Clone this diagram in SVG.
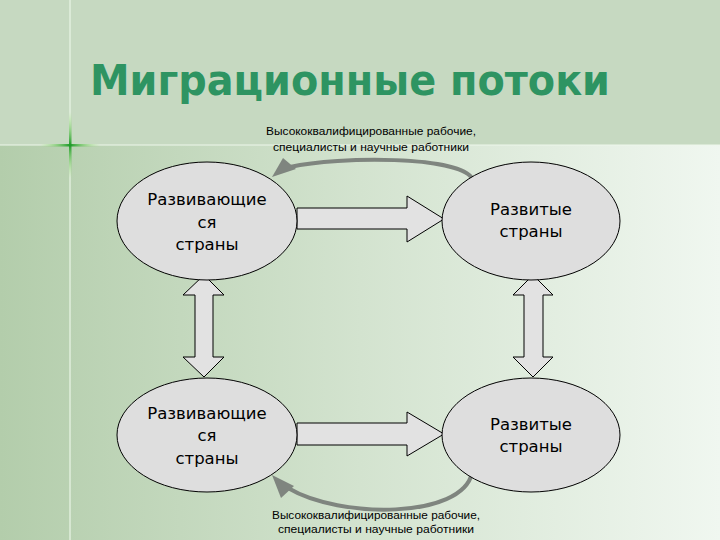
<svg xmlns="http://www.w3.org/2000/svg" width="720" height="540" viewBox="0 0 720 540">
<defs>
<linearGradient id="bg" x1="0" y1="0" x2="1" y2="0">
<stop offset="0" stop-color="#b3cdab"/>
<stop offset="0.5" stop-color="#d3e3cf"/>
<stop offset="1" stop-color="#f0f7f0"/>
</linearGradient>
<linearGradient id="hg" x1="0" y1="0" x2="1" y2="0">
<stop offset="0" stop-color="#9be86a" stop-opacity="0"/>
<stop offset="0.5" stop-color="#1f9a2a"/>
<stop offset="1" stop-color="#9be86a" stop-opacity="0"/>
</linearGradient>
<linearGradient id="vg" x1="0" y1="0" x2="0" y2="1">
<stop offset="0" stop-color="#9be86a" stop-opacity="0"/>
<stop offset="0.5" stop-color="#1f9a2a"/>
<stop offset="1" stop-color="#9be86a" stop-opacity="0"/>
</linearGradient>
</defs>
<style>
.node{fill:#dedede;stroke:#000;stroke-width:1}
.blk{fill:#e2e2e2;stroke:#000;stroke-width:1}
.nt{font-family:"DejaVu Sans",Verdana,sans-serif;font-size:16.5px;fill:#000;text-anchor:middle}
.lbl{font-family:"Liberation Sans",Arial,sans-serif;font-size:11.5px;fill:#000;text-anchor:middle}
.curve{fill:none;stroke:#7f857f;stroke-width:4}
.head{fill:#7f857f;stroke:none}
</style>
<rect x="0" y="0" width="720" height="540" fill="url(#bg)"/>
<rect x="0" y="0" width="720" height="145" fill="#c6d9c1"/>
<line x1="70" y1="0" x2="70" y2="540" stroke="#e9f5e6" stroke-width="1.2"/>
<line x1="0" y1="145" x2="720" y2="145" stroke="#eef8ec" stroke-width="1.2"/>
<rect x="40" y="144" width="60" height="2.5" fill="url(#hg)"/>
<rect x="69" y="112" width="2.5" height="66" fill="url(#vg)"/>
<text x="90" y="95" font-family="DejaVu Sans,Verdana,sans-serif" font-weight="bold" font-size="43" fill="#2e9462" textLength="520" lengthAdjust="spacingAndGlyphs">Миграционные потоки</text>

<g id="connectors">
<path class="blk" d="M297,208 L407,208 L407,196 L444,219 L407,242 L407,229 L297,229 Z"/>
<path class="blk" d="M297,423 L407,423 L407,412 L444,434 L407,456 L407,445 L297,445 Z"/>
<path class="blk" d="M204,275 L224,295 L213,295 L213,357 L224,357 L204,377 L183,357 L195,357 L195,295 L183,295 Z"/>
<path class="blk" d="M533,275 L553,295 L543,295 L543,357 L553,357 L533,377 L513,357 L524,357 L524,295 L513,295 Z"/>
<path class="curve" d="M472,178 C458,156 340,156 290,167"/>
<polygon class="head" points="272,177 283,158 296,169"/>
<path class="curve" d="M472,473 C462,519 340,519 288,488"/>
<polygon class="head" points="272,475 294,486 281,498"/>
<text class="lbl" x="371" y="135" textLength="210" lengthAdjust="spacingAndGlyphs">Высококвалифицированные рабочие,</text>
<text class="lbl" x="371" y="151" textLength="196" lengthAdjust="spacingAndGlyphs">специалисты и научные работники</text>
<text class="lbl" x="376" y="519" textLength="208" lengthAdjust="spacingAndGlyphs">Высококвалифицированные рабочие,</text>
<text class="lbl" x="376" y="533" textLength="196" lengthAdjust="spacingAndGlyphs">специалисты и научные работники</text>
</g>

<g id="n1">
<ellipse class="node" cx="207" cy="221" rx="90" ry="59"/>
<text class="nt" x="207" y="205">Развивающие</text>
<text class="nt" x="207" y="228">ся</text>
<text class="nt" x="207" y="250">страны</text>
</g>
<g id="n2">
<ellipse class="node" cx="531" cy="221" rx="89" ry="59"/>
<text class="nt" x="531" y="215">Развитые</text>
<text class="nt" x="531" y="237">страны</text>
</g>
<g id="n3">
<ellipse class="node" cx="207" cy="435" rx="90" ry="57"/>
<text class="nt" x="207" y="419">Развивающие</text>
<text class="nt" x="207" y="441">ся</text>
<text class="nt" x="207" y="464">страны</text>
</g>
<g id="n4">
<ellipse class="node" cx="531" cy="435" rx="89" ry="57"/>
<text class="nt" x="531" y="430">Развитые</text>
<text class="nt" x="531" y="452">страны</text>
</g>
</svg>
